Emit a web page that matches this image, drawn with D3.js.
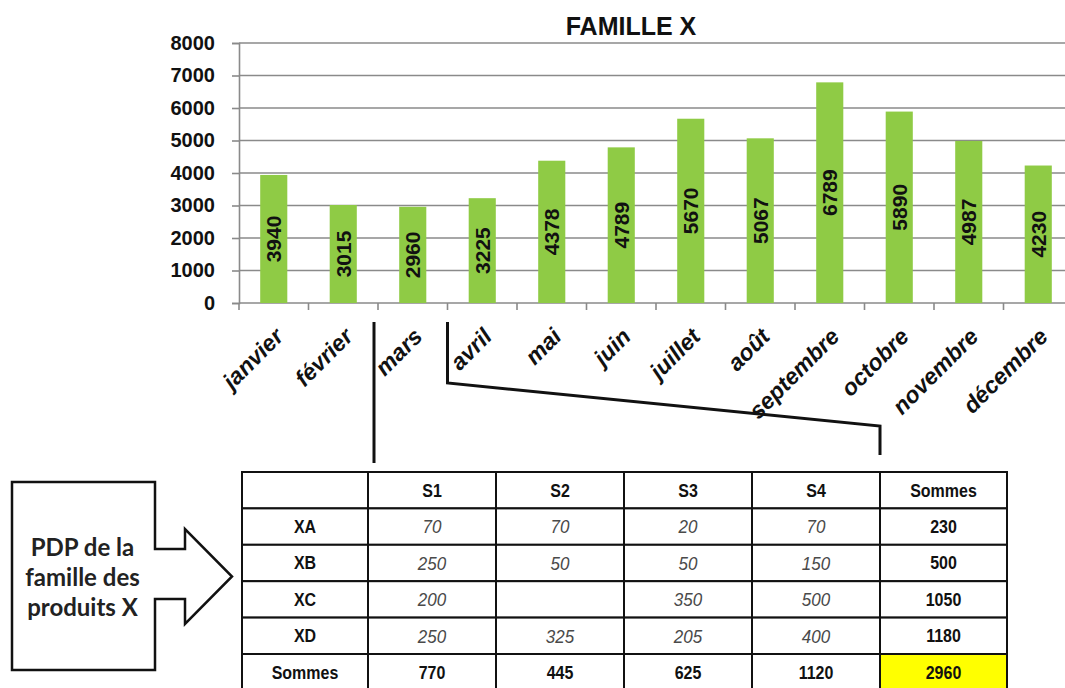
<!DOCTYPE html>
<html>
<head>
<meta charset="utf-8">
<script src="https://cdn.jsdelivr.net/npm/d3@7"></script>
<style>
  body { margin: 0; background: #fff; }
  svg { display: block; font-family: "Liberation Sans", Arial, sans-serif; }
</style>
</head>
<body>
<div id="chart"></div>
<script>
// bar chart data
var months = ["janvier", "février", "mars", "avril", "mai", "juin", "juillet", "août",
    "septembre", "octobre", "novembre", "décembre"];
var famille = [3940, 3015, 2960, 3225, 4378, 4789, 5670, 5067, 6789, 5890, 4987, 4230];
var yTicks = [0, 1000, 2000, 3000, 4000, 5000, 6000, 7000, 8000];

// table data (PDP of mars)
var weeks = ["S1", "S2", "S3", "S4"];
var products = ["XA", "XB", "XC", "XD"];
var pdpXA = [70, 70, 20, 70];
var pdpXB = [250, 50, 50, 150];
var pdpXC = [200, null, 350, 500];
var pdpXD = [250, 325, 205, 400];
var rowSums = [230, 500, 1050, 1180];
var weekSums = [770, 445, 625, 1120];
var grandTotal = 2960;

var W = 1065, H = 688;
var svg = d3.select("#chart").append("svg")
    .attr("width", W)
    .attr("height", H);

var margin = { top: 43, left: 239, right: 1073, bottom: 303 };

var x = d3.scaleBand()
    .domain(months)
    .range([margin.left, margin.right])
    .paddingInner(0.61)
    .paddingOuter(0.305);

var y = d3.scaleLinear()
    .domain([0, 8000])
    .range([margin.bottom, margin.top]);

var gridColor = "#8a8a8a";

// grid lines
svg.append("g")
    .selectAll("line")
    .data(yTicks)
    .enter().append("line")
    .attr("x1", margin.left)
    .attr("x2", margin.right)
    .attr("y1", function (d) { return y(d); })
    .attr("y2", function (d) { return y(d); })
    .attr("stroke", gridColor)
    .attr("stroke-width", 1.6);

// y axis
var yAxis = svg.append("g")
    .attr("transform", "translate(" + margin.left + ",0)")
    .call(d3.axisLeft(y).tickValues(yTicks).tickSize(7).tickPadding(17).tickFormat(d3.format("d")));
yAxis.selectAll("line").attr("stroke", gridColor).attr("stroke-width", 1.6);
yAxis.select(".domain").attr("stroke", gridColor).attr("stroke-width", 1.6);
yAxis.selectAll("text")
    .attr("font-family", "Liberation Sans, Arial, sans-serif")
    .attr("font-size", "20px")
    .attr("font-weight", "bold")
    .attr("fill", "#111");

// x axis ticks at category boundaries
var step = x.step();
var bounds = months.map(function (m) { return x(m) - x.paddingInner() * step / 2; });
bounds.push(bounds[bounds.length - 1] + step);
svg.append("g")
    .selectAll("line")
    .data(bounds)
    .enter().append("line")
    .attr("x1", function (d) { return d; })
    .attr("x2", function (d) { return d; })
    .attr("y1", margin.bottom)
    .attr("y2", margin.bottom + 7)
    .attr("stroke", gridColor)
    .attr("stroke-width", 1.6);

// bars
svg.append("g")
    .selectAll("rect")
    .data(famille)
    .enter().append("rect")
    .attr("x", function (d, i) { return x(months[i]); })
    .attr("width", x.bandwidth())
    .attr("y", function (d) { return y(d); })
    .attr("height", function (d) { return y(0) - y(d); })
    .attr("fill", "#8fcb45");

// value labels inside bars
svg.append("g")
    .selectAll("text")
    .data(famille)
    .enter().append("text")
    .attr("transform", function (d, i) {
        var cx = x(months[i]) + x.bandwidth() / 2;
        var cy = (y(d) + y(0)) / 2;
        return "translate(" + cx + "," + cy + ") rotate(-90)";
    })
    .attr("text-anchor", "middle")
    .attr("dy", "0.36em")
    .attr("font-size", "21px")
    .attr("font-weight", "bold")
    .attr("fill", "#111")
    .text(function (d) { return d; });

// month labels
svg.append("g")
    .selectAll("text")
    .data(months)
    .enter().append("text")
    .attr("transform", function (d) {
        var cx = x(d) + x.bandwidth() / 2 + 11;
        return "translate(" + cx + "," + (margin.bottom + 35) + ") rotate(-45)";
    })
    .attr("text-anchor", "end")
    .attr("font-size", "23px")
    .attr("font-weight", "bold")
    .attr("font-style", "italic")
    .attr("fill", "#111")
    .text(function (d) { return d; });

// title
svg.append("text")
    .attr("x", 631)
    .attr("y", 35)
    .attr("text-anchor", "middle")
    .attr("font-size", "25px")
    .attr("font-weight", "bold")
    .attr("fill", "#111")
    .text("FAMILLE X");

// ---- table ----
var tableTop = 472, rowH = 36.4;
var colEdges = [242, 368, 496, 624, 752, 880, 1007];
var header = [""].concat(weeks).concat(["Sommes"]);
var pdp = [pdpXA, pdpXB, pdpXC, pdpXD];

var rows = [];
rows.push(header.map(function (t) { return { text: t, kind: "head" }; }));
products.forEach(function (p, r) {
    var row = [{ text: p, kind: "head" }];
    pdp[r].forEach(function (v) { row.push({ text: v == null ? "" : v, kind: "val" }); });
    row.push({ text: rowSums[r], kind: "sum" });
    rows.push(row);
});
var lastRow = [{ text: "Sommes", kind: "head" }];
weekSums.forEach(function (v) { lastRow.push({ text: v, kind: "sum" }); });
lastRow.push({ text: grandTotal, kind: "total" });
rows.push(lastRow);

var table = svg.append("g");
rows.forEach(function (row, r) {
    row.forEach(function (cell, c) {
        var x0 = colEdges[c], x1 = colEdges[c + 1];
        var y0 = tableTop + r * rowH;
        table.append("rect")
            .attr("x", x0)
            .attr("y", y0)
            .attr("width", x1 - x0)
            .attr("height", rowH)
            .attr("fill", cell.kind == "total" ? "#ffff00" : "#fff")
            .attr("stroke", "#111")
            .attr("stroke-width", 2);
        table.append("text")
            .attr("transform", "translate(" + ((x0 + x1) / 2) + "," + (y0 + rowH / 2) + ") scale(1,1.12)")
            .attr("dy", "0.36em")
            .attr("text-anchor", "middle")
            .attr("font-size", cell.kind == "val" ? "17px" : "16px")
            .attr("font-weight", cell.kind == "val" ? "normal" : "bold")
            .attr("font-style", cell.kind == "val" ? "italic" : "normal")
            .attr("fill", cell.kind == "val" ? "#4a4a4a" : "#111")
            .text(cell.text);
    });
});

// connector lines from mars to the table
var marsLeft = x("mars") - x.paddingInner() * step / 2;
var marsRight = marsLeft + step;
var line = d3.line();
svg.append("path")
    .attr("d", line([[marsLeft - 4, 322], [marsLeft - 4, tableTop - 9]]))
    .attr("fill", "none")
    .attr("stroke", "#111")
    .attr("stroke-width", 3);
svg.append("path")
    .attr("d", line([[marsRight, 322], [marsRight, 383], [colEdges[5], 426], [colEdges[5], 455]]))
    .attr("fill", "none")
    .attr("stroke", "#111")
    .attr("stroke-width", 3);

// arrow box on the left
var arrowPts = [[12, 482], [155, 482], [155, 549], [185, 549], [185, 529], [232, 576.5],
    [185, 624], [185, 599], [155, 599], [155, 670], [12, 670]];
svg.append("path")
    .attr("d", line(arrowPts) + "Z")
    .attr("fill", "#fff")
    .attr("stroke", "#111")
    .attr("stroke-width", 2.5);

var boxLines = ["PDP de la", "famille des", "produits X"];
svg.append("g")
    .selectAll("text")
    .data(boxLines)
    .enter().append("text")
    .attr("x", 82.5)
    .attr("y", function (d, i) { return 556 + i * 30; })
    .attr("text-anchor", "middle")
    .attr("font-family", "Lato, 'Open Sans', sans-serif")
    .attr("font-size", "24px")
    .attr("font-weight", "bold")
    .attr("fill", "#222")
    .text(function (d) { return d; });
</script>
</body>
</html>
